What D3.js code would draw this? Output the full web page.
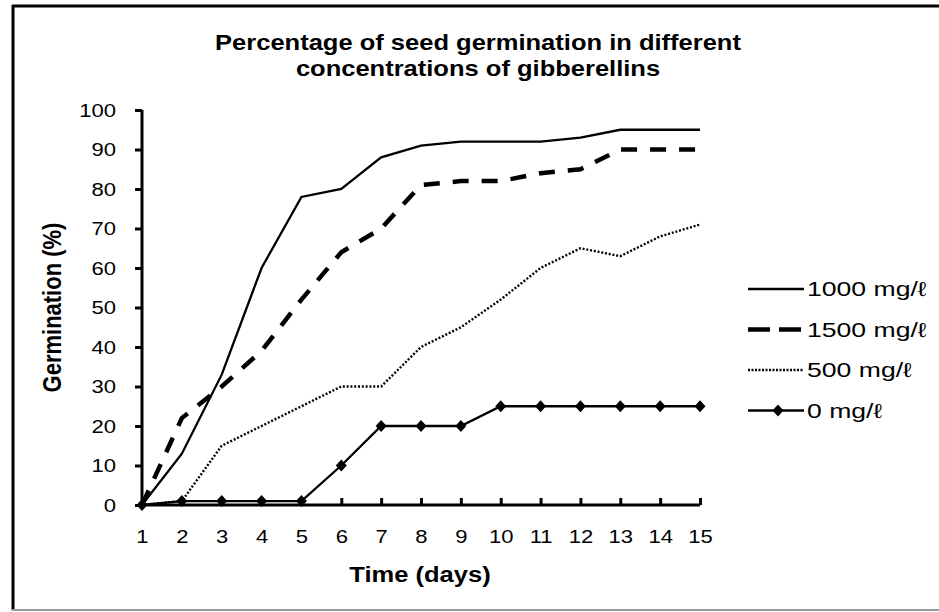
<!DOCTYPE html>
<html>
<head>
<meta charset="utf-8">
<script src="https://cdn.jsdelivr.net/npm/d3@7"></script>
<style>
  body { margin: 0; background: #fff; }
  svg { display: block; font-family: "Liberation Sans", Arial, sans-serif; }
</style>
</head>
<body>
<div id="chart"></div>
<script>
const days = [1, 2, 3, 4, 5, 6, 7, 8, 9, 10, 11, 12, 13, 14, 15];
const g1000 = [0, 13, 33, 60, 78, 80, 88, 91, 92, 92, 92, 93, 95, 95, 95];
const g1500 = [0, 22, 30, 39, 52, 64, 70, 81, 82, 82, 84, 85, 90, 90, 90];
const g500 = [0, 1, 15, 20, 25, 30, 30, 40, 45, 52, 60, 65, 63, 68, 71];
const g0 = [0, 1, 1, 1, 1, 10, 20, 20, 20, 25, 25, 25, 25, 25, 25];
const yTicks = [0, 10, 20, 30, 40, 50, 60, 70, 80, 90, 100];
const titleLines = ["Percentage of seed germination in different", "concentrations of gibberellins"];

const series = [
  { name: "1000 mg/\u2113", values: g1000, width: 2.3, dash: null, legendDash: null, marker: false },
  { name: "1500 mg/\u2113", values: g1500, width: 4.5, dash: "16,13", legendDash: "22,9", marker: false },
  { name: "500 mg/\u2113", values: g500, width: 2.4, dash: "2,1.8", legendDash: "2,1.5", marker: false },
  { name: "0 mg/\u2113", values: g0, width: 2.3, dash: null, legendDash: null, marker: true }
];

const width = 939, height = 612;
const S = 1.16; // the original picture is a bit stretched sideways

const svg = d3.select("#chart").append("svg")
  .attr("width", width).attr("height", height);

// frame
svg.append("line").attr("x1", 12).attr("x2", width).attr("y1", 6).attr("y2", 6)
  .attr("stroke", "#000").attr("stroke-width", 3);
svg.append("line").attr("x1", 13).attr("x2", 13).attr("y1", 5).attr("y2", 610)
  .attr("stroke", "#000").attr("stroke-width", 3);
svg.append("line").attr("x1", 12).attr("x2", width).attr("y1", 610).attr("y2", 610)
  .attr("stroke", "#999").attr("stroke-width", 2);

const x = d3.scaleLinear().domain([1, 15]).range([142, 700]);
const y = d3.scaleLinear().domain([0, 100]).range([505, 110]);

// title
svg.append("g")
  .selectAll("text")
  .data(titleLines)
  .join("text")
  .attr("transform", (d, i) => `translate(478,${50 + i * 26}) scale(${S},1)`)
  .attr("text-anchor", "middle")
  .attr("font-size", 22).attr("font-weight", "bold")
  .text(d => d);

function stretchTicks(g, size) {
  g.selectAll(".tick text").each(function () {
    const t = d3.select(this);
    const x0 = +t.attr("x") || 0, y0 = +t.attr("y") || 0;
    t.attr("x", 0).attr("y", 0)
      .attr("transform", `translate(${x0},${y0}) scale(${S},1)`)
      .attr("font-size", size).attr("fill", "#000")
      .attr("font-family", "Liberation Sans, Arial, sans-serif");
  });
}

// y axis
svg.append("g")
  .attr("transform", `translate(${x(1)},0)`)
  .call(d3.axisLeft(y).tickValues(yTicks).tickSize(7).tickPadding(19))
  .call(g => g.select(".domain").attr("stroke-width", 3).attr("d", `M0,${y(100)}V${y(0)}`))
  .call(g => g.selectAll(".tick line").attr("stroke-width", 3))
  .call(g => stretchTicks(g, 19));

// x axis
svg.append("g")
  .attr("transform", `translate(0,${y(0)})`)
  .call(d3.axisBottom(x).tickValues(days).tickFormat(d3.format("d")).tickSize(-7).tickPadding(25))
  .call(g => g.select(".domain").attr("stroke-width", 3).attr("d", `M${x(1)},0H${x(15)}`))
  .call(g => g.selectAll(".tick line").attr("stroke-width", 3))
  .call(g => stretchTicks(g, 19));

// axis titles
svg.append("text")
  .attr("transform", `translate(61,${y(50)}) scale(${S},1) rotate(-90)`)
  .attr("text-anchor", "middle")
  .attr("font-size", 22).attr("font-weight", "bold")
  .text("Germination (%)");
svg.append("text")
  .attr("transform", `translate(420,582) scale(${S},1)`)
  .attr("text-anchor", "middle")
  .attr("font-size", 22).attr("font-weight", "bold")
  .text("Time (days)");

// lines
const line = d3.line().x((d, i) => x(days[i])).y(d => y(d));
const diamond = "M0,-6L5.5,0L0,6L-5.5,0Z";

series.forEach(s => {
  svg.append("path")
    .datum(s.values)
    .attr("fill", "none")
    .attr("stroke", "#000")
    .attr("stroke-width", s.width)
    .attr("stroke-dasharray", s.dash)
    .attr("d", line);
  if (s.marker) {
    svg.append("g").selectAll("path")
      .data(s.values)
      .join("path")
      .attr("transform", (d, i) => `translate(${x(days[i])},${y(d)})`)
      .attr("d", diamond)
      .attr("fill", "#000");
  }
});

// legend
const legend = svg.append("g").attr("transform", "translate(748,289)");
const rows = legend.selectAll("g")
  .data(series)
  .join("g")
  .attr("transform", (d, i) => `translate(0,${i * 40.5})`);
rows.append("line")
  .attr("x1", 0).attr("x2", 56)
  .attr("stroke", "#000")
  .attr("stroke-width", d => d.width)
  .attr("stroke-dasharray", d => d.legendDash);
rows.filter(d => d.marker).append("path")
  .attr("transform", "translate(30,0)")
  .attr("d", diamond)
  .attr("fill", "#000");
rows.append("text")
  .attr("transform", "translate(59,0) scale(1.33,1)")
  .attr("dy", "0.36em")
  .attr("font-size", 20)
  .text(d => d.name);
</script>
</body>
</html>
